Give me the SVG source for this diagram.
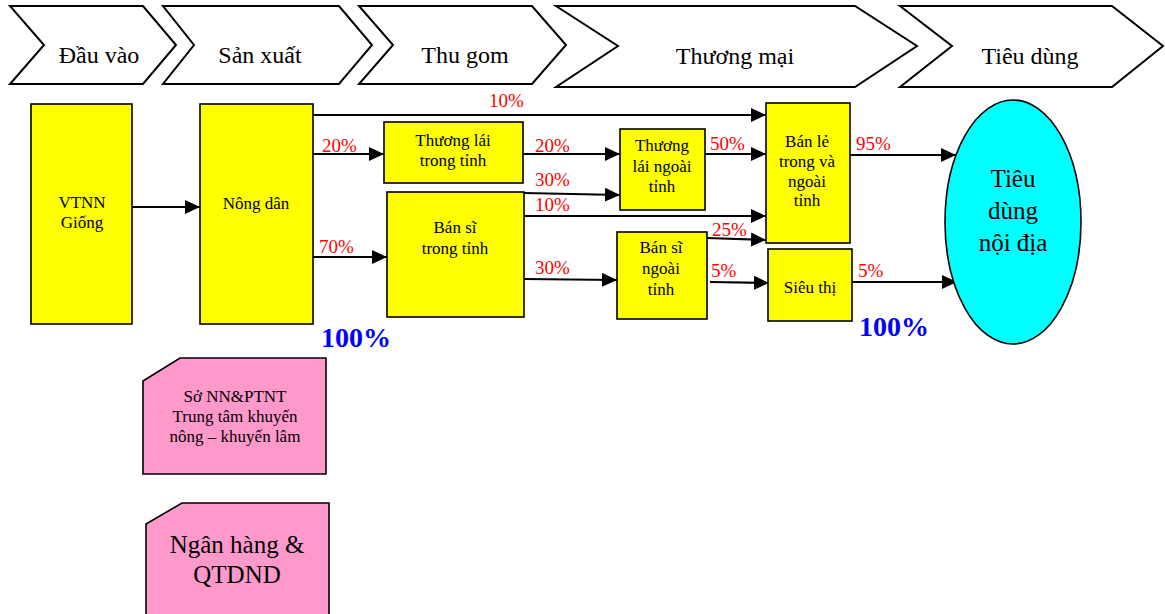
<svg xmlns="http://www.w3.org/2000/svg" width="1165" height="614" viewBox="0 0 1165 614">
<style>
.chev{fill:#fff;stroke:#000;stroke-width:2}
.ct{font-family:"Liberation Serif","DejaVu Serif",serif;font-size:24px;text-anchor:middle;fill:#000}
.box{fill:#ffff00;stroke:#000;stroke-width:1.6}
.pink{fill:#ff99cc;stroke:#000;stroke-width:1.6}
.bt{font-family:"Liberation Serif","DejaVu Serif",serif;font-size:17px;text-anchor:middle;fill:#000}
.big{font-family:"Liberation Serif","DejaVu Serif",serif;font-size:25px;text-anchor:middle;fill:#000}
.pct{font-family:"Liberation Serif","DejaVu Serif",serif;font-size:19px;fill:#ff0000}
.tot{font-family:"Liberation Serif","DejaVu Serif",serif;font-size:28px;font-weight:bold;fill:#0000ff}
.ln{fill:none;stroke:#000;stroke-width:2.2;marker-end:url(#ah)}
</style>
<defs>
<marker id="ah" markerUnits="userSpaceOnUse" markerWidth="16" markerHeight="14" refX="15" refY="7" orient="auto">
<path d="M0,0 L15,7 L0,14 z" fill="#000"/>
</marker>
</defs>
<g id="stages">
<g id="stage-dauvao"><polygon class="chev" points="10,6 143,6 176,45 143,84 10,84 44,45"/><text class="ct" x="99" y="63">Đầu vào</text></g>
<g id="stage-sanxuat"><polygon class="chev" points="163,6 339,6 372,45 339,84 163,84 194,45"/><text class="ct" x="260" y="63">Sản xuất</text></g>
<g id="stage-thugom"><polygon class="chev" points="359,6 532,6 566,45 532,84 359,84 393,45"/><text class="ct" x="465" y="63">Thu gom</text></g>
<g id="stage-thuongmai"><polygon class="chev" points="556,6 855,6 917,46 855,87 556,87 618,46"/><text class="ct" x="735" y="64">Thương mại</text></g>
<g id="stage-tieudung"><polygon class="chev" points="900,6 1112,6 1163,46 1112,87 900,87 952,46"/><text class="ct" x="1030" y="64">Tiêu dùng</text></g>
</g>
<g id="connectors">
<line class="ln" x1="132" y1="207" x2="200" y2="207"/>
<line class="ln" x1="313" y1="115" x2="766" y2="115"/>
<line class="ln" x1="313" y1="154" x2="384" y2="154"/>
<line class="ln" x1="313" y1="257" x2="387" y2="257"/>
<line class="ln" x1="523" y1="154" x2="620" y2="154"/>
<line class="ln" x1="524" y1="193" x2="620" y2="195"/>
<line class="ln" x1="524" y1="216" x2="766" y2="216"/>
<line class="ln" x1="524" y1="279" x2="617" y2="280"/>
<line class="ln" x1="705" y1="154" x2="766" y2="154"/>
<line class="ln" x1="707" y1="238" x2="766" y2="240"/>
<line class="ln" x1="710" y1="282" x2="769" y2="283"/>
<line class="ln" x1="850" y1="155" x2="956" y2="155"/>
<line class="ln" x1="852" y1="282" x2="957" y2="282"/>
</g>
<g id="labels">
<text class="pct" x="489" y="107">10%</text>
<text class="pct" x="322" y="152">20%</text>
<text class="pct" x="319" y="253">70%</text>
<text class="pct" x="535" y="152">20%</text>
<text class="pct" x="535" y="186">30%</text>
<text class="pct" x="535" y="211">10%</text>
<text class="pct" x="535" y="274">30%</text>
<text class="pct" x="710" y="150">50%</text>
<text class="pct" x="712" y="236">25%</text>
<text class="pct" x="711" y="277">5%</text>
<text class="pct" x="856" y="150">95%</text>
<text class="pct" x="858" y="277">5%</text>
<text class="tot" x="321" y="347">100%</text>
<text class="tot" x="859" y="336">100%</text>
</g>
<g id="node-vtnn"><rect class="box" x="31" y="104" width="101" height="220"/><text class="bt" x="82" y="208">VTNN</text><text class="bt" x="82" y="228">Giống</text></g>
<g id="node-nongdan"><rect class="box" x="200" y="104" width="113" height="220"/><text class="bt" x="256" y="209">Nông dân</text></g>
<g id="node-thuonglai-trong"><rect class="box" x="384" y="122" width="139" height="61"/><text class="bt" x="453" y="146">Thương lái</text><text class="bt" x="453" y="166">trong tỉnh</text></g>
<g id="node-bansi-trong"><rect class="box" x="387" y="192" width="137" height="125"/><text class="bt" x="455" y="233">Bán sĩ</text><text class="bt" x="455" y="254">trong tỉnh</text></g>
<g id="node-thuonglai-ngoai"><rect class="box" x="620" y="129" width="85" height="81"/><text class="bt" x="662" y="151">Thương</text><text class="bt" x="662" y="172">lái ngoài</text><text class="bt" x="662" y="192">tỉnh</text></g>
<g id="node-banle"><rect class="box" x="766" y="103" width="84" height="140"/><text class="bt" x="807" y="147">Bán lẻ</text><text class="bt" x="807" y="167">trong và</text><text class="bt" x="807" y="187">ngoài</text><text class="bt" x="807" y="206">tỉnh</text></g>
<g id="node-bansi-ngoai"><rect class="box" x="617" y="232" width="90" height="87"/><text class="bt" x="661" y="253">Bán sĩ</text><text class="bt" x="661" y="274">ngoài</text><text class="bt" x="661" y="295">tỉnh</text></g>
<g id="node-sieuthi"><rect class="box" x="768" y="249" width="84" height="72"/><text class="bt" x="810" y="293">Siêu thị</text></g>
<g id="node-tieudung"><ellipse cx="1013" cy="222" rx="68" ry="122" fill="#00ffff" stroke="#000" stroke-width="1.6"/><text class="big" x="1013" y="187" font-size="26">Tiêu</text><text class="big" x="1013" y="219">dùng</text><text class="big" x="1013" y="251">nội địa</text></g>
<g id="node-so-nn"><polygon class="pink" points="143,381 180,358 326,358 326,474 143,474"/><text class="bt" x="235" y="402">Sở NN&amp;PTNT</text><text class="bt" x="235" y="422">Trung tâm khuyến</text><text class="bt" x="235" y="442">nông – khuyến lâm</text></g>
<g id="node-nganhang"><polygon class="pink" points="146,524 182,503 329,503 329,616 146,616"/><text class="big" x="237" y="553">Ngân hàng &amp;</text><text class="big" x="237" y="583">QTDND</text></g>
</svg>
